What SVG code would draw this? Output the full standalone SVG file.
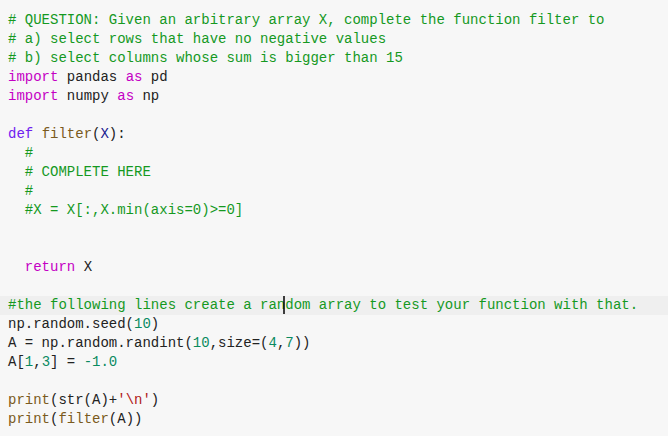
<svg xmlns="http://www.w3.org/2000/svg" width="668" height="436" viewBox="0 0 668 436">
<style>
text{font-family:"Liberation Mono","DejaVu Sans Mono",monospace;font-size:14px;fill:#222;white-space:pre}
.c{fill:#15991f}.k{fill:#c400c4}.d{fill:#7020f0}.f{fill:#7a5a20}.v{fill:#202090}.n{fill:#0a8a60}.s{fill:#b02020}
</style>
<rect width="668" height="436" fill="#f7f7f7"/>
<rect x="0" y="296" width="668" height="19" fill="#efefef"/>
<g id="code" xml:space="preserve">
<text x="8" y="24" class="c"># QUESTION: Given an arbitrary array X, complete the function filter to</text>
<text x="8" y="43" class="c"># a) select rows that have no negative values</text>
<text x="8" y="62" class="c"># b) select columns whose sum is bigger than 15</text>
<text x="8" y="81"><tspan class="k">import</tspan> pandas <tspan class="k">as</tspan> pd</text>
<text x="8" y="100"><tspan class="k">import</tspan> numpy <tspan class="k">as</tspan> np</text>
<text x="8" y="138"><tspan class="d">def</tspan> <tspan class="f">filter</tspan>(<tspan class="v">X</tspan>):</text>
<text x="8" y="157" class="c">  #</text>
<text x="8" y="176" class="c">  # COMPLETE HERE</text>
<text x="8" y="195" class="c">  #</text>
<text x="8" y="214" class="c">  #X = X[:,X.min(axis=0)&gt;=0]</text>
<text x="8" y="271">  <tspan class="k">return</tspan> X</text>
<text x="8" y="309" class="c">#the following lines create a random array to test your function with that.</text>
<text x="8" y="328">np.random.seed(<tspan class="n">10</tspan>)</text>
<text x="8" y="347">A = np.random.randint(<tspan class="n">10</tspan>,size=(<tspan class="n">4</tspan>,<tspan class="n">7</tspan>))</text>
<text x="8" y="366">A[<tspan class="n">1</tspan>,<tspan class="n">3</tspan>] = <tspan class="n">-1.0</tspan></text>
<text x="8" y="404"><tspan class="f">print</tspan>(str(A)+<tspan class="s">'\n'</tspan>)</text>
<text x="8" y="423"><tspan class="f">print</tspan>(<tspan class="f">filter</tspan>(A))</text>
</g>
<line x1="284" y1="296" x2="284" y2="314" stroke="#000" stroke-width="1.5"/>
</svg>
